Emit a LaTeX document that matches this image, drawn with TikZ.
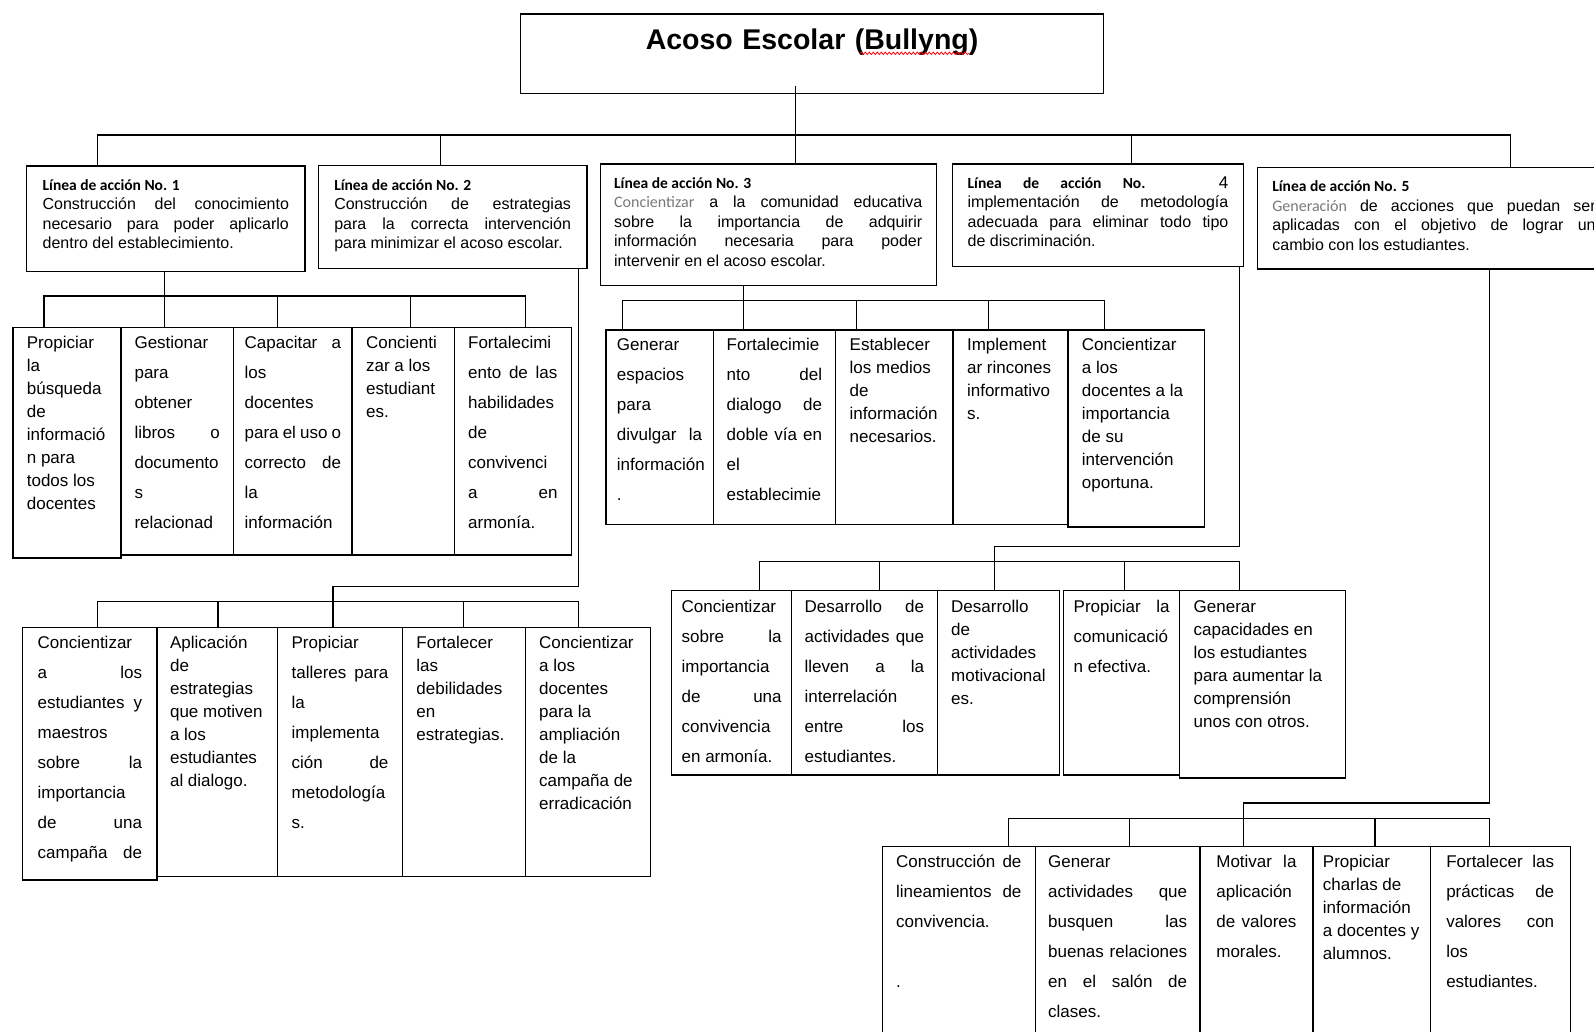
\documentclass[tikz,border=0pt]{standalone}
\usepackage{fontspec}
\setmainfont{Liberation Sans}
\newfontfamily\calibri{Carlito}
\usetikzlibrary{decorations.pathmorphing}
\definecolor{grisw}{RGB}{120,120,120}
\newcommand{\encab}[1]{{\calibri\bfseries\fontsize{15.5}{19.5}\selectfont #1}}
\newcommand{\gris}[1]{\textcolor{grisw}{\calibri #1}}
\hyphenpenalty=10000
\exhyphenpenalty=10000
\tolerance=10000
\hbadness=10000

\begin{document}
\begin{tikzpicture}[x=1pt, y=-1pt, line width=1.3pt,
    caja/.style={draw, anchor=north west, inner xsep=14pt, inner ysep=0pt, align=justify},
    sencilla/.style={caja, font=\fontsize{17}{23}\selectfont},
    doble/.style={caja, font=\fontsize{17}{30}\selectfont},
    linea/.style={caja, font=\fontsize{16}{19.5}\selectfont, text height=24.5pt},
    titulo/.style={caja, align=center, font=\bfseries\fontsize{28.5}{34}\selectfont},
    sub1/.style={text height=21pt, text depth=206.6pt},
    sub2/.style={text height=21pt, text depth=228.3pt},
    sub3/.style={text height=21pt, text depth=173.7pt},
    sub4/.style={text height=22pt, text depth=162.3pt},
    sub5/.style={text height=21pt, text depth=193.3pt}]
\useasboundingbox (0,0) rectangle (1594,1031);
\clip (0,0) rectangle (1594,1031);

\node[titulo, inner xsep=10pt, text width=563.2pt, text height=35.7pt, text depth=43.7pt] (acoso) at (519.8,13.3) {Acoso Escolar (Bullyng)};
\draw[red, line width=0.8pt, decorate, decoration={snake, amplitude=1.2pt, segment length=4pt}] ([xshift=48pt,yshift=-40pt]acoso.north) -- ([xshift=157pt,yshift=-40pt]acoso.north);

% lineas de accion
\node[linea, inner xsep=16pt, text width=246.3pt, text depth=81.2pt] (linea1) at (26,165.3) {\encab{Línea de acción No. 1}\\ Construcción del conocimiento\linebreak necesario para poder aplicarlo\linebreak dentro del establecimiento.};
\node[linea, inner xsep=16pt, text width=236.7pt, text depth=78.2pt] (linea2) at (317.6,165) {\encab{Línea de acción No. 2}\\ Construcción de estrategias\linebreak para la correcta intervención\linebreak para minimizar el acoso escolar.};
\node[linea, text width=308.1pt, text depth=96.8pt] (linea3) at (599.5,163.3) {\encab{Línea de acción No. 3}\\ \gris{Concientizar} a la comunidad educativa\linebreak sobre la importancia de adquirir\linebreak información necesaria para poder\linebreak intervenir en el acoso escolar.};
\node[linea, inner xsep=15pt, text width=260.7pt, text depth=78.2pt] (linea4) at (952,163.3) {\encab{Línea de acción No.} {\fontsize{17}{19.5}\selectfont 4}\linebreak implementación de metodología\linebreak adecuada para eliminar todo tipo\linebreak de discriminación.};
\node[linea, inner xsep=15pt, text width=323.3pt, text depth=77.1pt] (linea5) at (1256.7,166.7) {\encab{Línea de acción No. 5}\\ \gris{Generación} de acciones que puedan ser\linebreak aplicadas con el objetivo de lograr un\linebreak cambio con los estudiantes.};

% linea 1
\node[sencilla, sub1, text width=80pt, text depth=209.6pt] (l1a) at (12.2,326.7) {Propiciar\\ la\\ búsqueda\\ de\\ informació\\ n para\\ todos los\\ docentes};
\node[doble, sub1, inner xsep=13.7pt, text width=85.4pt] (l1b) at (120.2,326.7) {Gestionar\\ para\\ obtener\\ libros o\linebreak documento\\ s\\ relacionad};
\node[doble, sub1, inner xsep=11pt, text width=96.4pt] (l1c) at (233,326.7) {Capacitar a\linebreak los\\ docentes\\ para el uso o\linebreak correcto de\linebreak la\\ información};
\node[sencilla, sub1, text width=74.1pt] (l1d) at (351.4,326.7) {Concienti\\ zar a los\\ estudiant\\ es.};
\node[doble, sub1, text width=89.3pt] (l1e) at (453.5,326.7) {Fortalecimi\\ ento de las\linebreak habilidades\\ de\\ convivenci\\ a en\linebreak armonía.};

% linea 2
\node[doble, sub2, inner xsep=15pt, text width=104.4pt, text depth=231.6pt] (l2a) at (22,626.7) {Concientizar\\ a los\linebreak estudiantes y\linebreak maestros\\ sobre la\linebreak importancia\\ de una\linebreak campaña\hfill de};
\node[sencilla, sub2, inner xsep=13pt, text width=94.6pt] (l2b) at (156.4,626.7) {Aplicación\\ de\\ estrategias\\ que motiven\\ a los\\ estudiantes\\ al dialogo.};
\node[doble, sub2, text width=96.8pt] (l2c) at (277,626.7) {Propiciar\\ talleres para\linebreak la\\ implementa\\ ción de\linebreak metodología\\ s.};
\node[sencilla, sub2, text width=94.7pt] (l2d) at (401.8,626.7) {Fortalecer\\ las\\ debilidades\\ en\\ estrategias.};
\node[sencilla, sub2, text width=97pt] (l2e) at (524.5,626.7) {Concientizar\\ a los\\ docentes\\ para la\\ ampliación\\ de la\\ campaña de\\ erradicación};

% linea 3
\node[doble, sub3, inner xsep=11pt, text width=85.2pt] (l3a) at (605.3,329.3) {Generar\\ espacios\\ para\\ divulgar la\linebreak información\\ .};
\node[doble, sub3, inner xsep=13.5pt, text width=95.5pt] (l3b) at (712.5,329.3) {Fortalecimie\\ nto del\linebreak dialogo de\linebreak doble vía en\linebreak el\\ establecimie};
\node[sencilla, sub3, text width=89.4pt] (l3c) at (835,329.3) {Establecer\\ los medios\\ de\\ información\\ necesarios.};
\node[sencilla, sub3, text width=86.9pt] (l3d) at (952.4,329.3) {Implement\\ ar rincones\\ informativo\\ s.};
\node[sencilla, sub3, text width=108.7pt, text depth=176.1pt] (l3e) at (1067.3,329.3) {Concientizar\\ a los\\ docentes a la\\ importancia\\ de su\\ intervención\\ oportuna.};

% linea 4
\node[doble, sub4, inner xsep=10pt, text width=100pt] (l4a) at (671,590) {Concientizar\\ sobre la\linebreak importancia\\ de una\linebreak convivencia\\ en armonía.};
\node[doble, sub4, inner xsep=13pt, text width=119.5pt] (l4b) at (791,590) {Desarrollo de\linebreak actividades que\linebreak lleven a la\linebreak interrelación\\ entre los\linebreak estudiantes.};
\node[sencilla, sub4, text width=94.5pt] (l4c) at (936.5,590) {Desarrollo\\ de\\ actividades\\ motivacional\\ es.};
\node[doble, sub4, inner xsep=10pt, text width=96pt] (l4d) at (1063,590) {Propiciar la\linebreak comunicació\\ n efectiva.};
\node[sencilla, sub4, text width=138pt, text depth=165.3pt] (l4e) at (1179,590) {Generar\\ capacidades en\\ los estudiantes\\ para aumentar la\\ comprensión\\ unos con otros.};

% linea 5
\node[doble, sub5, text width=125.3pt] (l5a) at (881.5,845.7) {Construcción de\linebreak lineamientos de\linebreak convivencia.\\ \mbox{}\\ .};
\node[doble, sub5, inner xsep=12.7pt, text width=139pt] (l5b) at (1034.8,845.7) {Generar\\ actividades que\linebreak busquen las\linebreak buenas relaciones\linebreak en el salón de\linebreak clases.};
\node[doble, sub5, inner xsep=16.5pt, text width=80.1pt] (l5c) at (1199.2,845.7) {Motivar la\linebreak aplicación\\ de valores\linebreak morales.};
\node[sencilla, sub5, inner xsep=10pt, text width=97.3pt] (l5d) at (1312.3,845.7) {Propiciar\\ charlas de\\ información\\ a docentes y\\ alumnos.};
\node[doble, sub5, inner xsep=16pt, text width=107.9pt] (l5e) at (1429.6,845.7) {Fortalecer las\linebreak prácticas de\linebreak valores con\linebreak los\\ estudiantes.};

% conectores
\draw ([xshift=-16.8pt,yshift=7.7pt]acoso.south) -- ++(0,50);
\draw ([xshift=-68.35pt]linea1.north) -- ++(0,-30.3) -| ([xshift=76.65pt]linea5.north);
\draw ([xshift=-11.95pt]linea2.north) -- ++(0,-30);
\draw ([xshift=27.05pt]linea3.north) -- ++(0,-28.3);
\draw ([xshift=33.45pt]linea4.north) -- ++(0,-28.3);

\draw ([xshift=-1.2pt]linea1.south) -- ++(0,25);
\draw ([xshift=-22.9pt]l1a.north) -- ++(0,-30.7) -| ([xshift=12.35pt]l1e.north);
\draw ([xshift=-12.7pt]l1b.north) -- ++(0,-30.7);
\draw ([xshift=-15.2pt]l1c.north) -- ++(0,-30.7);
\draw ([xshift=7.05pt]l1d.north) -- ++(0,-30.7);

\draw ([xshift=126.05pt]linea2.south) -- ++(0,317.3) -| ([xshift=-7.2pt]l2c.north);
\draw ([xshift=7.4pt]l2a.north) -- ++(0,-25) -| ([xshift=-9pt]l2e.north);
\draw ([xshift=0.6pt]l2b.north) -- ++(0,-25);
\draw (l2d.north) -- ++(0,-25);

\draw ([xshift=-24.85pt]linea3.south) -- ++(0,16.1);
\draw ([xshift=-36.9pt]l3a.north) -- ++(0,-28.6) -| ([xshift=-32.15pt]l3e.north);
\draw ([xshift=-31.05pt]l3b.north) -- ++(0,-28.6);
\draw ([xshift=-37.7pt]l3c.north) -- ++(0,-28.6);
\draw ([xshift=-22.05pt]l3d.north) -- ++(0,-28.6);

\draw ([xshift=141.15pt]linea4.south) -- ++(0,279) -| ([xshift=-4pt]l4c.north);
\draw ([xshift=27.6pt]l4a.north) -- ++(0,-28.3) -| ([xshift=-23.5pt]l4e.north);
\draw ([xshift=15.2pt]l4b.north) -- ++(0,-28.3);
\draw ([xshift=2.5pt]l4d.north) -- ++(0,-28.3);

\draw ([xshift=55.35pt]linea5.south) -- ++(0,533.4) -| ([xshift=-12.75pt]l5c.north);
\draw ([xshift=49.45pt]l5a.north) -- ++(0,-27.4) -| ([xshift=-10.85pt]l5e.north);
\draw ([xshift=11.5pt]l5b.north) -- ++(0,-27.4);
\draw ([xshift=3.25pt]l5d.north) -- ++(0,-27.4);
\end{tikzpicture}
\end{document}
